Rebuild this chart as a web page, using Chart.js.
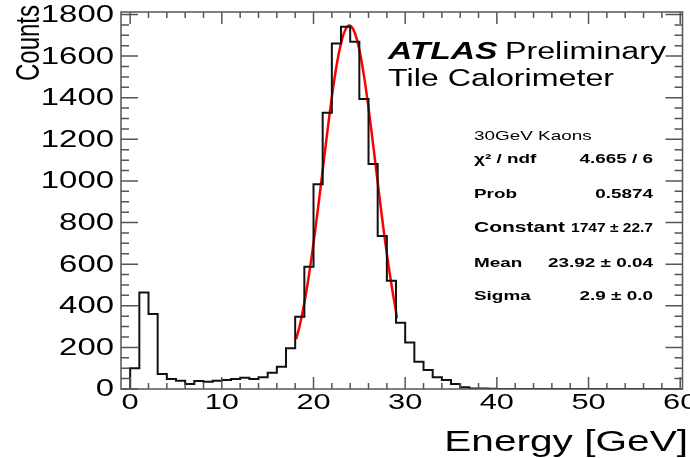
<!DOCTYPE html>
<html>
<head>
<meta charset="utf-8">
<script src="https://cdn.jsdelivr.net/npm/chart.js@4.4.1/dist/chart.umd.min.js"></script>
<style>
html, body { margin: 0; padding: 0; background: #fff; }
#wrap { width: 690px; height: 458px; }
</style>
</head>
<body>
<div id="wrap"><canvas id="histChart"></canvas></div>
<script>
// histogram: lower bin edges [GeV] and counts per bin
var binLow = [0,1,2,3,4,5,6,7,8,9,10,11,12,13,14,15,16,17,18,19,
              20,21,22,23,24,25,26,27,28,29,30,31,32,33,34,35,36,37,38,39,
              40,41,42,43,44,45,46,47,48,49,50,51,52,53,54,55,56,57,58,59];
var binWidth = 1;
var counts = [100,464,360,72,48,40,24,39,35,40,43,48,54,48,56,78,107,196,347,588,
              984,1328,1661,1741,1669,1394,1081,735,520,319,224,131,91,56,43,24,8,3,2,1,
              0,0,0,0,0,0,0,0,0,0,0,0,0,0,0,0,0,0,0,0];

// gaussian fit curve as drawn (red)
var fitX = [18.1,18.5,19,19.5,20,20.5,21,21.5,22,22.5,23,23.5,24,24.5,25,25.5,26,26.5,27,27.5,28,28.5,29,29.1];
var fitY = [240,305,414,547,701,872,1052,1233,1403,1550,1661,1729,1746,1712,1630,1506,1351,1176,994,816,649,502,370,340];

// axis ticks
var xTickValues = [0,10,20,30,40,50,60];
var xTickLabels = ['0','10','20','30','40','50','60'];
var yTickValues = [0,200,400,600,800,1000,1200,1400,1600,1800];
var yTickLabels = ['0','200','400','600','800','1000','1200','1400','1600','1800'];

var statsTitle = '30GeV Kaons';
var statsRows = [
  ['\u03C7\u00B2 / ndf', '4.665 / 6'],
  ['Prob', '0.5874'],
  ['Constant', '1747 \u00B1 22.7'],
  ['Mean', '23.92 \u00B1 0.04'],
  ['Sigma', '2.9 \u00B1 0.0']
];

var histPoints = [{x: binLow[0], y: 0}];
for (var i = 0; i < binLow.length; i++) {
  histPoints.push({x: binLow[i], y: counts[i]});
}
histPoints.push({x: binLow[binLow.length - 1] + binWidth, y: 0});

var fitPoints = fitX.map(function (x, i) { return {x: x, y: fitY[i]}; });

var SX = 1.4; // the picture is stretched sideways
var FONT = '"Liberation Sans", Arial, Helvetica, sans-serif';

function stretchText(ctx, text, x, y, align, font, baseline, maxW) {
  ctx.save();
  ctx.translate(x, y);
  ctx.scale(SX, 1);
  ctx.font = font;
  ctx.textAlign = align;
  ctx.textBaseline = baseline || 'alphabetic';
  ctx.fillStyle = '#000';
  if (maxW) ctx.fillText(text, 0, 0, maxW / SX);
  else ctx.fillText(text, 0, 0);
  ctx.restore();
}

var rootFrame = {
  id: 'rootFrame',
  beforeDraw: function (chart) {
    var ctx = chart.ctx;
    ctx.save();
    ctx.fillStyle = '#fff';
    ctx.fillRect(0, 0, chart.width, chart.height);
    ctx.restore();
  },
  afterDraw: function (chart) {
    var ctx = chart.ctx, a = chart.chartArea;
    var xs = chart.scales.x, ys = chart.scales.y;
    ctx.save();
    ctx.strokeStyle = '#555';
    ctx.lineWidth = 1.5;
    ctx.strokeRect(a.left, a.top, a.right - a.left, a.bottom - a.top);
    ctx.beginPath();
    // x ticks, bottom and top
    for (var v = 0; v <= 60; v += 2) {
      var px = xs.getPixelForValue(v);
      var len = (v % 10 === 0) ? 12 : 6;
      ctx.moveTo(px, a.bottom); ctx.lineTo(px, a.bottom - len);
      ctx.moveTo(px, a.top); ctx.lineTo(px, a.top + len);
    }
    // y ticks, left and right
    for (var w = 0; w <= 1800; w += 50) {
      var py = ys.getPixelForValue(w);
      var l2 = (w % 200 === 0) ? 17 : 8;
      ctx.moveTo(a.left, py); ctx.lineTo(a.left + l2, py);
      ctx.moveTo(a.right, py); ctx.lineTo(a.right - l2, py);
    }
    ctx.stroke();
    ctx.restore();

    xTickValues.forEach(function (v, i) {
      stretchText(ctx, xTickLabels[i], xs.getPixelForValue(v), a.bottom + 3, 'center', '22px ' + FONT, 'top');
    });
    yTickValues.forEach(function (v, i) {
      stretchText(ctx, yTickLabels[i], a.left - 7, ys.getPixelForValue(v) + 1, 'right', '23.5px ' + FONT, 'middle');
    });

    // axis titles
    stretchText(ctx, 'Energy [GeV]', 688, 451, 'right', '29px ' + FONT);
    ctx.save();
    ctx.translate(30, 5);
    ctx.scale(SX, 1);
    ctx.rotate(-Math.PI / 2);
    ctx.font = '24px ' + FONT;
    ctx.textAlign = 'right';
    ctx.textBaseline = 'middle';
    ctx.fillStyle = '#000';
    ctx.fillText('Counts', 0, 0);
    ctx.restore();

    // label
    stretchText(ctx, 'ATLAS', 388, 59, 'left', 'italic bold 24px ' + FONT);
    stretchText(ctx, 'Preliminary', 505, 59, 'left', '23px ' + FONT);
    stretchText(ctx, 'Tile Calorimeter', 388, 86, 'left', '23px ' + FONT);

    // stats
    stretchText(ctx, statsTitle, 474, 140, 'left', '13.5px ' + FONT);
    var rowY = [163, 198, 232, 267, 300];
    statsRows.forEach(function (r, i) {
      var lblFont = (r[0] === 'Constant') ? 'bold 15px ' : 'bold 13.5px ';
      stretchText(ctx, r[0], 474, rowY[i], 'left', lblFont + FONT);
      stretchText(ctx, r[1], 653, rowY[i], 'right', 'bold 13.5px ' + FONT, null,
                  r[0] === 'Constant' ? 82 : 0);
    });
  }
};

var ctx = document.getElementById('histChart').getContext('2d');
var chart = new Chart(ctx, {
  type: 'line',
  data: {
    datasets: [{
      label: 'Energy',
      data: histPoints,
      stepped: true,
      borderColor: '#111',
      borderWidth: 2,
      pointRadius: 0,
      fill: false
    }, {
      label: 'Fit',
      data: fitPoints,
      borderColor: '#ff0000',
      borderWidth: 2.5,
      pointRadius: 0,
      tension: 0.4,
      fill: false
    }]
  },
  plugins: [rootFrame],
  options: {
    responsive: true,
    maintainAspectRatio: false,
    animation: false,
    layout: { padding: { left: 121, right: 7.5, top: 12, bottom: 69 } },
    plugins: { legend: { display: false }, tooltip: { enabled: false } },
    scales: {
      x: { type: 'linear', min: -1, max: 60.25, display: false },
      y: { type: 'linear', min: 0, max: 1812, display: false }
    }
  }
});
</script>
</body>
</html>
